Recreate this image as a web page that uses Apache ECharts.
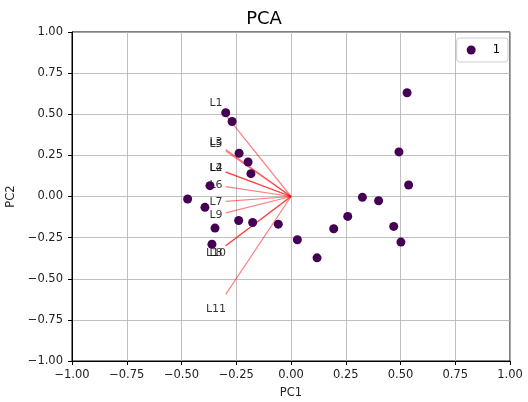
<!DOCTYPE html>
<html>
<head>
<meta charset="utf-8">
<script src="https://cdn.jsdelivr.net/npm/echarts@6/dist/echarts.min.js"></script>
<style>html,body{margin:0;padding:0;background:#fff}#c{width:528px;height:402px}</style>
</head>
<body>
<div id="c"></div>
<script>
// Scores (PC1, PC2)
const pc1 = [0.530, 0.493, 0.537, 0.326, 0.400, 0.259, 0.195, 0.469, 0.502, 0.029, 0.119, -0.058,
             -0.298, -0.269, -0.237, -0.196, -0.183, -0.370, -0.472, -0.393, -0.239, -0.175, -0.347, -0.361];
const pc2 = [0.631, 0.271, 0.070, -0.005, -0.026, -0.121, -0.196, -0.182, -0.277, -0.263, -0.373, -0.168,
             0.509, 0.456, 0.263, 0.210, 0.139, 0.066, -0.015, -0.066, -0.146, -0.158, -0.192, -0.290];
// Loadings
const loadNames = ['L1','L2','L3','L4','L5','L6','L7','L8','L9','L10','L11'];
const loadX = [-0.298, -0.298, -0.298, -0.298, -0.298, -0.298, -0.298, -0.298, -0.298, -0.298, -0.298];
const loadY = [0.495, 0.148, 0.286, 0.150, 0.276, 0.060, -0.030, -0.300, -0.100, -0.300, -0.595];
const ticks = [-1, -0.75, -0.5, -0.25, 0, 0.25, 0.5, 0.75, 1];
const labelScale = 1.15;

const fmt = v => (v < 0 ? '\u2212' : '') + Math.abs(v).toFixed(2);
const FONT = 'DejaVu Sans';
const FS = 11.5;

const series = [];
loadNames.forEach((n, i) => {
  series.push({
    type: 'line', name: 'load' + n, data: [[0, 0], [loadX[i], loadY[i]]],
    symbol: 'none', silent: true, z: 3,
    lineStyle: { color: 'rgba(255,0,0,0.5)', width: 1.2 }
  });
});
series.push({
  type: 'scatter', name: 'labels', symbolSize: 0, silent: true, z: 4,
  data: loadNames.map((n, i) => ({ value: [loadX[i] * labelScale, loadY[i] * labelScale], name: n })),
  label: { show: true, position: 'inside', formatter: p => p.name, color: '#000',
           fontFamily: FONT, fontSize: 11 }
});
series.push({
  type: 'scatter', name: '1', symbolSize: 9, z: 5,
  itemStyle: { color: '#440154', opacity: 1 },
  data: pc1.map((x, i) => [x, pc2[i]])
});

const axisCommon = {
  min: -1, max: 1, interval: 0.25,
  axisLine: { show: true, onZero: false, lineStyle: { color: '#000', width: 1 } },
  axisTick: { show: true, length: 4, lineStyle: { color: '#000' } },
  axisLabel: { formatter: fmt, color: '#222', fontFamily: FONT, fontSize: FS },
  splitLine: { show: true, lineStyle: { color: '#b0b0b0', width: 0.8 } },
  nameTextStyle: { color: '#222', fontFamily: FONT, fontSize: FS }
};

const chart = echarts.init(document.getElementById('c'), null, { renderer: 'canvas' });
chart.setOption({
  animation: false,
  backgroundColor: '#fff',
  title: { text: 'PCA', left: 'center', top: 5,
           textStyle: { fontFamily: FONT, fontSize: 18, fontWeight: 'normal', color: '#000' } },
  grid: { left: 72, right: 18, top: 32, bottom: 41, show: true, borderColor: '#000', borderWidth: 1,
          containLabel: false, outerBoundsMode: 'none' },
  legend: {
    data: ['1'], right: 20, top: 38, orient: 'vertical',
    icon: 'circle', itemWidth: 9, itemHeight: 9, itemGap: 4,
    borderColor: '#ccc', borderWidth: 1, borderRadius: 3, padding: [6, 8, 6, 10],
    backgroundColor: 'rgba(255,255,255,0.8)',
    textStyle: { fontFamily: FONT, fontSize: FS, color: '#000', padding: [0, 0, 0, 12] }
  },
  xAxis: Object.assign({}, axisCommon, {
    type: 'value', name: 'PC1', nameLocation: 'middle', nameGap: 26,
    axisLabel: Object.assign({}, axisCommon.axisLabel, { margin: 8 })
  }),
  yAxis: Object.assign({}, axisCommon, {
    type: 'value', name: 'PC2', nameLocation: 'middle', nameGap: 48,
    axisLabel: Object.assign({}, axisCommon.axisLabel, { margin: 9 })
  }),
  series: series
});
</script>
</body>
</html>
